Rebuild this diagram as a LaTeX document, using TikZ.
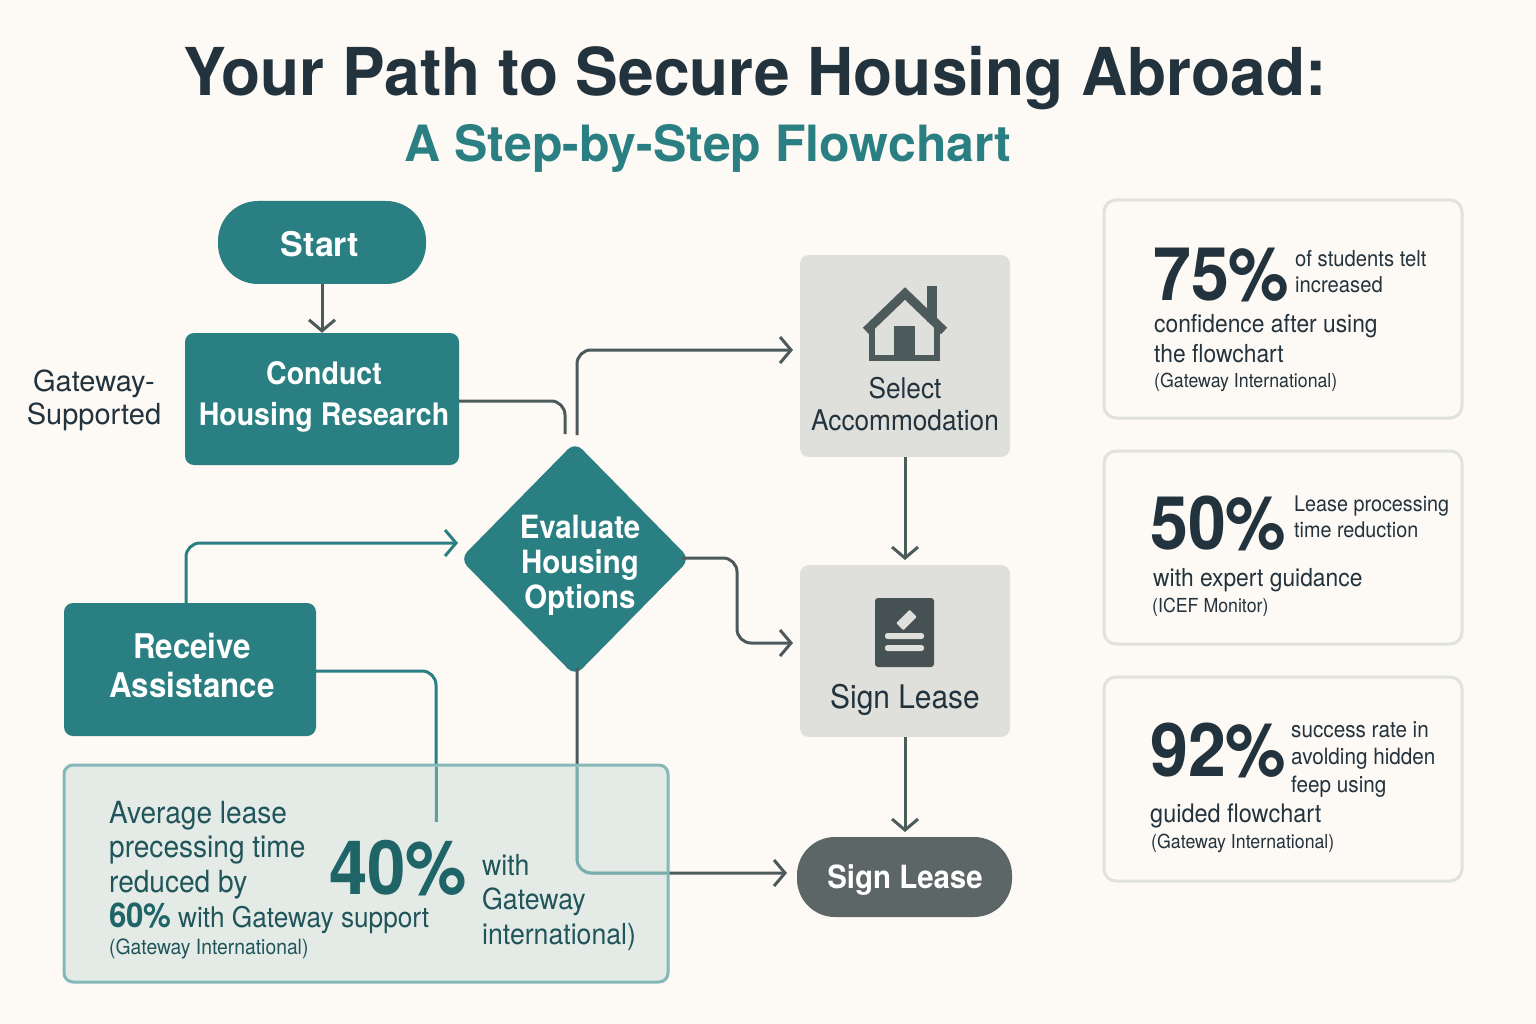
\documentclass[tikz,border=0pt]{standalone}
\usepackage{fontspec}
\setmainfont{TeX Gyre Heros}[FakeStretch=0.92]
\newfontfamily\headfont{TeX Gyre Heros}[FakeStretch=0.97]
\newfontfamily\widefont{TeX Gyre Heros}
\usepackage{tikz}
\usetikzlibrary{arrows.meta,shapes.geometric}
\definecolor{paper}{HTML}{FDF9F4}
\definecolor{tealbox}{HTML}{2A7F82}
\definecolor{tealdeep}{HTML}{1F6467}
\definecolor{inkdark}{HTML}{23333D}
\definecolor{linegrey}{HTML}{4D5A5B}
\definecolor{greybox}{HTML}{DFE0DC}
\definecolor{pillgrey}{HTML}{5C6666}
\definecolor{statline}{HTML}{E0E2DE}
\definecolor{notefill}{HTML}{DCE7E2}
\definecolor{noteline}{HTML}{85B8B8}
\newcommand{\sizeto}[2]{\fontsize{#1}{#2}\selectfont}
\tikzset{
	tealnode/.style={draw=none,fill=tealbox,inner sep=0pt},
	greynode/.style={fill=greybox,rounded corners=9pt,inner sep=0pt,minimum width=210pt},
	statbox/.style={draw=statline,line width=3pt,rounded corners=12pt,inner sep=0pt,minimum width=358pt},
	boxtext/.style={text=white,align=center,font=\bfseries\sizeto{31}{41}},
	greytext/.style={text=inkdark,align=center,font=\sizeto{28.5}{32}},
	bignum/.style={text=inkdark,font=\bfseries\sizeto{74}{74},anchor=base west,inner sep=0pt},
	smalltext/.style={text=inkdark,align=left,font=\sizeto{22}{26},anchor=north west,inner sep=0pt},
	midtext/.style={text=inkdark,align=left,font=\sizeto{24.8}{30},anchor=north west,inner sep=0pt},
	srctext/.style={text=inkdark,font=\sizeto{19.3}{20},anchor=base west,inner sep=0pt},
	notetext/.style={text=tealdeep!70!inkdark,align=left,font=\sizeto{30.5}{34.5},anchor=north west,inner sep=0pt},
	linkgrey/.style={draw=linegrey,line width=3pt,rounded corners=14pt,>={Straight Barb[length=11pt,width=26pt]}},
	linkteal/.style={draw=tealbox,line width=3pt,rounded corners=14pt,>={Straight Barb[length=11pt,width=26pt]}},
}
\begin{document}
\begin{tikzpicture}[x=1pt,y=-1pt]
	\useasboundingbox (0,0) rectangle (1536,1024);
	\fill[paper] (0,0) rectangle (1536,1024);
	%
	\node[text=inkdark,font=\headfont\bfseries\sizeto{66}{70},anchor=base] (title) at (755,96) {Your Path to Secure Housing Abroad:};
	\node[text=tealbox,font=\widefont\bfseries\sizeto{50}{54},anchor=base] (subtitle) at (708,162) {A Step-by-Step Flowchart};
	%
	\node[tealnode,rounded corners=40pt,minimum width=208pt,minimum height=83pt] (start) at (322,242.5) {};
	\node[boxtext,font=\widefont\bfseries\sizeto{34}{40}] (starttext) at (320,244) {Start};
	\node[tealnode,rounded corners=9pt,minimum width=274pt,minimum height=132pt] (research) at (322,399) {};
	\node[boxtext] (researchtext) at (324,397) {Conduct\\Housing Research};
	\node[text=inkdark,align=center,font=\widefont\sizeto{29}{33}] (gateway) at (94,400) {Gateway-\\Supported};
	\node[tealnode,diamond,rounded corners=10pt,minimum width=230pt,minimum height=234pt] (evaluate) at (575,559) {};
	\node[boxtext,font=\bfseries\sizeto{32}{35}] (evaluatetext) at (580,565) {Evaluate\\Housing\\Options};
	\node[tealnode,rounded corners=9pt,minimum width=252pt,minimum height=133pt] (assist) at (190,669.5) {};
	\node[boxtext,font=\bfseries\sizeto{34}{39}] (assisttext) at (192,665) {Receive\\Assistance};
	%
	\node[greynode,minimum height=202pt] (select) at (905,356) {};
	\node[greytext] (selecttext) at (905,404) {Select\\Accommodation};
	\node[greynode,minimum height=172pt] (sign) at (905,651) {};
	\node[greytext,font=\sizeto{32.5}{36}] (signtext) at (905,700) {Sign Lease};
	\node[fill=pillgrey,rounded corners=38pt,inner sep=0pt,minimum width=215pt,minimum height=80pt] (final) at (904.5,877) {};
	\node[boxtext,font=\bfseries\sizeto{32}{36}] (finaltext) at (905,880) {Sign Lease};
	%
	\coordinate (researchend) at (565,434);
	\coordinate (evaluatetop) at (577,435);
	\coordinate (evaluateright) at (682,558);
	\coordinate (evaluatelow) at (577,668);
	\coordinate (assistend) at (436,822);
	\coordinate (selectin) at (793,350);
	\coordinate (signin) at (793,643);
	\coordinate (finalin) at (787,873);
	\coordinate (evaluatein) at (458,543);
	\coordinate (signtop) at (905,560);
	\coordinate (finaltop) at (905,832);
	\path[->]
	(start) edge[linkgrey] (research)
	(select) edge[linkgrey] (signtop)
	(sign) edge[linkgrey] (finaltop);
	\draw[linkgrey] (research.east |- 0,401) -- (565,401) -- (researchend);
	\draw[linkgrey,->] (evaluatetop) -- (577,350) -- (selectin);
	\draw[linkgrey,->] (evaluateright) -- (737,558) -- (737,643) -- (signin);
	\draw[linkgrey,->] (evaluatelow) -- (577,873) -- (finalin);
	\draw[linkteal,->] (186,603) -- (186,543) -- (evaluatein);
	\draw[linkteal] (assist.east |- 0,671) -- (436,671) -- (assistend);
	%
	\node[draw=noteline,fill=notefill,fill opacity=.75,line width=3pt,rounded corners=9pt,inner sep=0pt,minimum width=604pt,minimum height=217pt] (note) at (366,873.5) {};
	% lines seen through the note
	\draw[linkgrey,draw=tealbox!55!notefill] (577,767) -- (577,873) -- (667,873);
	\draw[linkgrey,draw=tealbox!70!notefill] (436,767) -- (assistend);
	\node[notetext] (notetext) at (109,801) {Average lease\\precessing time\\reduced by};
	\node[notetext,anchor=base west,text=tealdeep,font=\bfseries\sizeto{34}{34}] (noteshare) at (109,927) {60\%};
	\node[notetext,anchor=base west,font=\sizeto{28.5}{34}] (notesupport) at (178,927) {with Gateway support};
	\node[srctext,text=tealdeep!70!inkdark,font=\sizeto{21}{22}] (notesource) at (109,954) {(Gateway International)};
	\node[bignum,text=tealdeep,font=\bfseries\sizeto{75}{75}] (notenum) at (329,894) {40\%};
	\node[notetext,font=\sizeto{29}{34.5}] (noteside) at (482,854) {with\\Gateway\\international)};
	%
	\node[statbox,minimum height=218pt] (statone) at (1283,309) {};
	\node[bignum] (onenum) at (1153,301) {75\%};
	\node[smalltext] (onetop) at (1295,250) {of students telt\\increased};
	\node[midtext] (onemid) at (1154,314) {confidence after using\\the flowchart};
	\node[srctext] (onesrc) at (1154,387) {(Gateway International)};
	%
	\node[statbox,minimum height=193pt] (stattwo) at (1283,547.5) {};
	\node[bignum] (twonum) at (1150,549) {50\%};
	\node[smalltext,font=\sizeto{21.5}{26}] (twotop) at (1294,496) {Lease processing\\time reduction};
	\node[midtext] (twomid) at (1153,568) {with expert guidance};
	\node[srctext] (twosrc) at (1152,612) {(ICEF Monitor)};
	%
	\node[statbox,minimum height=204pt] (statthree) at (1283,779) {};
	\node[bignum] (threenum) at (1150,776) {92\%};
	\node[smalltext,font=\sizeto{22.5}{27.5}] (threetop) at (1291,721) {success rate in\\avolding hidden\\feep using};
	\node[midtext,font=\sizeto{25.5}{30}] (threemid) at (1150,804) {guided flowchart};
	\node[srctext] (threesrc) at (1151,848) {(Gateway International)};
	%
	% house icon
	\draw[linegrey,line width=9pt,miter limit=10] (866,331) -- (905,293.5) -- (944,331);
	\fill[linegrey] (927,286) rectangle (937,322);
	\draw[linegrey,line width=6pt] (872,322) -- (872,357.5) -- (937,357.5) -- (937,322);
	\fill[linegrey] (894,326) rectangle (915,358);
	% lease icon
	\fill[linegrey!90!black,rounded corners=3pt] (875,598) rectangle (934,667);
	\fill[greybox,rotate around={45:(906.5,620)},rounded corners=1pt] (897,615) rectangle (916,625);
	\fill[greybox,rounded corners=2.5pt] (885,633) rectangle (924,639);
	\fill[greybox,rounded corners=2.5pt] (885,645) rectangle (924,651);
\end{tikzpicture}
\end{document}
